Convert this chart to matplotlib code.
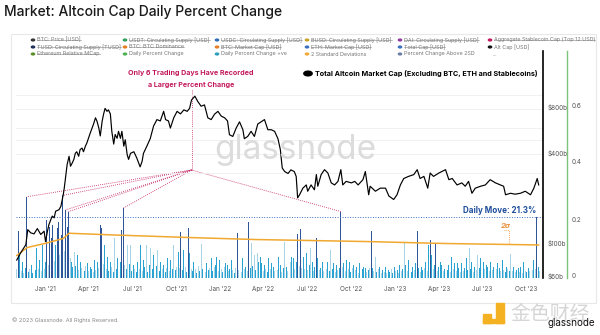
import matplotlib
matplotlib.use('Agg')
import matplotlib.pyplot as plt
import matplotlib.transforms as mtrans
from matplotlib.patches import Rectangle, Circle
from matplotlib.lines import Line2D
import numpy as np
import pandas as pd

# ---------------- data ----------------
title = "Market: Altcoin Cap Daily Percent Change"

# absolute daily percent change, one value every 3 days from bar_start
bar_start = '2020-11-03'
bar_step_days = 3
pct_change = [
    3.2, 16.5, 8.0, 2.5, 5.7, 1.8, 3.6, 28.5, 2.2, 3.1, 4.6, 1.9, 5.7, 2.7, 10.4, 3.3, 6.3, 2.4, 11.6, 3.0,
    5.7, 20.4, 4.4, 18.0, 13.9, 18.6, 6.1, 11.6, 17.4, 19.5, 8.2, 15.0, 29.0, 9.5, 23.9, 18.0, 23.3, 7.0, 5.7, 3.8,
    9.2, 4.1, 8.1, 2.9, 5.7, 3.5, 7.5, 2.6, 4.2, 5.1, 2.3, 4.0, 3.1, 2.0, 6.3, 2.8, 5.7, 3.4, 18.6, 17.4,
    4.8, 11.6, 3.0, 7.5, 2.5, 5.7, 3.9, 2.1, 13.9, 3.2, 6.9, 2.7, 5.7, 16.8, 24.5, 4.4, 3.0, 11.6, 4.8, 11.6,
    2.4, 4.6, 3.3, 2.0, 5.7, 3.1, 11.6, 2.6, 6.3, 3.7, 11.6, 2.2, 4.5, 10.4, 3.0, 8.1, 2.8, 4.2, 9.8, 2.5,
    5.7, 3.3, 4.6, 2.0, 3.6, 6.9, 2.4, 6.3, 3.1, 11.6, 2.7, 4.0, 9.2, 3.5, 16.2, 2.9, 9.8, 3.8, 2.2, 17.4,
    8.7, 3.0, 2.4, 5.7, 3.3, 1.9, 4.1, 2.6, 11.8, 3.2, 4.6, 2.0, 5.1, 2.8, 3.5, 6.9, 2.3, 3.7, 4.6, 7.5,
    2.5, 6.3, 3.0, 2.1, 3.9, 5.1, 4.6, 2.4, 3.3, 6.3, 2.7, 1.8, 3.6, 15.7, 2.9, 5.7, 2.2, 6.9, 3.1, 4.0,
    2.6, 19.8, 3.4, 12.2, 4.3, 8.1, 2.7, 8.7, 5.7, 7.5, 5.1, 2.4, 4.6, 3.0, 2.1, 6.9, 3.3, 5.1, 4.0, 2.5,
    5.7, 2.9, 7.5, 4.6, 2.2, 3.4, 12.5, 4.0, 2.6, 8.7, 5.7, 7.5, 6.9, 3.1, 5.7, 15.4, 4.2, 17.1, 3.6, 7.5,
    3.0, 8.7, 2.8, 4.4, 10.4, 5.7, 2.5, 3.7, 13.9, 6.9, 2.9, 3.4, 5.7, 2.3, 4.6, 3.1, 5.7, 2.6, 9.8, 3.3,
    5.1, 2.0, 4.6, 2.8, 3.5, 23.3, 3.9, 5.1, 2.4, 6.3, 3.0, 5.7, 2.2, 3.4, 4.6, 2.7, 4.0, 1.9, 5.1, 2.5,
    3.2, 4.0, 3.4, 2.1, 2.8, 3.6, 16.5, 3.4, 2.6, 7.5, 2.2, 3.0, 4.0, 1.8, 2.8, 2.2, 4.0, 1.6, 2.8, 2.0,
    3.1, 1.7, 4.0, 2.3, 2.8, 1.9, 4.6, 2.5, 3.3, 12.2, 4.6, 2.4, 6.3, 3.0, 2.1, 4.0, 2.7, 5.1, 16.6, 3.4,
    2.2, 4.0, 2.9, 3.6, 5.7, 2.5, 11.6, 13.3, 8.1, 3.2, 4.4, 12.2, 2.6, 4.0, 5.7, 4.6, 2.3, 3.0, 7.8, 2.7,
    4.6, 2.0, 7.5, 3.1, 5.1, 2.4, 5.1, 3.4, 2.2, 5.1, 2.6, 3.4, 6.9, 2.8, 10.6, 3.3, 5.7, 2.1, 4.0, 2.9,
    8.1, 3.5, 6.9, 2.4, 5.7, 3.0, 4.6, 4.0, 2.3, 5.7, 2.7, 4.0, 1.9, 3.2, 5.1, 3.4, 2.5, 6.3, 2.8, 2.0,
    4.0, 3.1, 2.4, 8.5, 2.6, 4.0, 2.1, 2.9, 3.4, 2.2, 4.0, 1.8, 5.7, 2.6, 2.0, 3.4, 2.3, 4.0, 2.7, 6.3,
    3.0, 21.3, 4.0, 2.5,
]
# slots that were down days (drawn pale)
down_idx = [0, 3, 5, 9, 12, 15, 17, 19, 22, 26, 30, 33, 37, 40, 43, 45, 48, 50, 53, 55, 57, 60, 62, 66,
            68, 71, 75, 77, 79, 82, 85, 87, 90, 93, 96, 98, 101, 104, 106, 109, 111, 113, 117, 121, 124,
            126, 128, 131, 134, 137, 140, 142, 144, 147, 150, 152, 154, 156, 158, 160, 163, 165, 167, 171,
            173, 176, 179, 181, 184, 186, 188, 190, 193, 196, 198, 200, 202, 204, 206, 210, 213, 215, 218,
            221, 223, 226, 228, 230, 233, 235, 237, 239, 243, 245, 248, 249, 251, 253, 255, 257, 260, 263,
            265, 267, 269, 271, 273, 276, 280, 283, 285, 289, 291, 292, 296, 298, 301, 303, 305, 308, 310,
            314, 317, 319, 320, 323, 325, 328, 330, 333, 336, 338, 341, 343, 344, 346, 349, 351, 353, 356,
            358, 360, 363]

price_dates = [
    '2020-11-03', '2020-11-11', '2020-11-22', '2020-11-26', '2020-12-02', '2020-12-09', '2020-12-16',
    '2020-12-23', '2020-12-30', '2021-01-02', '2021-01-06', '2021-01-09', '2021-01-13', '2021-01-16',
    '2021-01-20', '2021-01-23', '2021-01-30', '2021-02-03', '2021-02-08', '2021-02-10', '2021-02-13',
    '2021-02-16', '2021-02-20', '2021-02-23', '2021-02-27', '2021-03-02', '2021-03-05', '2021-03-08',
    '2021-03-12', '2021-03-15', '2021-03-19', '2021-03-22', '2021-03-26', '2021-03-29', '2021-04-05',
    '2021-04-12', '2021-04-16', '2021-04-19', '2021-04-23', '2021-04-26', '2021-04-30', '2021-05-03',
    '2021-05-06', '2021-05-10', '2021-05-13', '2021-05-17', '2021-05-20', '2021-05-24', '2021-05-27',
    '2021-05-31', '2021-06-03', '2021-06-07', '2021-06-10', '2021-06-14', '2021-06-17', '2021-06-21',
    '2021-06-24', '2021-06-28', '2021-07-05', '2021-07-11', '2021-07-18', '2021-07-22', '2021-07-25',
    '2021-08-01', '2021-08-08', '2021-08-15', '2021-08-22', '2021-08-29', '2021-09-05', '2021-09-09',
    '2021-09-15', '2021-09-19', '2021-09-26', '2021-10-03', '2021-10-10', '2021-10-17', '2021-10-24',
    '2021-10-29', '2021-11-02', '2021-11-09', '2021-11-15', '2021-11-22', '2021-11-29', '2021-12-06',
    '2021-12-13', '2021-12-20', '2021-12-27', '2022-01-03', '2022-01-10', '2022-01-16', '2022-01-20',
    '2022-01-27', '2022-02-03', '2022-02-10', '2022-02-17', '2022-02-20', '2022-02-27', '2022-03-06',
    '2022-03-13', '2022-03-20', '2022-03-27', '2022-04-03', '2022-04-10', '2022-04-17', '2022-04-24',
    '2022-05-01', '2022-05-06', '2022-05-10', '2022-05-15', '2022-05-22', '2022-05-28', '2022-06-04',
    '2022-06-08', '2022-06-11', '2022-06-15', '2022-06-22', '2022-06-29', '2022-07-02', '2022-07-09',
    '2022-07-16', '2022-07-20', '2022-07-23', '2022-07-30', '2022-08-06', '2022-08-13', '2022-08-20',
    '2022-08-27', '2022-09-03', '2022-09-09', '2022-09-13', '2022-09-20', '2022-10-01', '2022-10-08',
    '2022-10-15', '2022-10-25', '2022-10-30', '2022-11-06', '2022-11-09', '2022-11-20', '2022-11-30',
    '2022-12-11', '2022-12-18', '2022-12-28', '2023-01-04', '2023-01-11', '2023-01-18', '2023-01-28',
    '2023-02-08', '2023-02-15', '2023-02-21', '2023-03-01', '2023-03-09', '2023-03-14', '2023-03-21',
    '2023-04-01', '2023-04-15', '2023-04-22', '2023-04-29', '2023-05-09', '2023-05-19', '2023-05-26',
    '2023-06-02', '2023-06-09', '2023-06-16', '2023-06-27', '2023-07-07', '2023-07-17', '2023-07-28',
    '2023-08-07', '2023-08-14', '2023-08-18', '2023-08-28', '2023-09-07', '2023-09-18', '2023-09-28',
    '2023-10-09', '2023-10-16', '2023-10-23', '2023-10-26',
]
price_vals = [
    79, 88, 100, 126, 120, 118, 128, 117, 123, 105, 123, 136, 147, 155, 151, 167, 171, 180, 216, 238,
    285, 342, 388, 333, 352, 370, 406, 416, 388, 430, 440, 416, 453, 475, 553, 636, 700, 667, 598, 530,
    667, 743, 809, 773, 790, 743, 569, 468, 542, 511, 569, 511, 569, 453, 500, 398, 370, 406, 416, 378,
    330, 358, 406, 453, 508, 617, 681, 667, 773, 681, 667, 598, 700, 773, 743, 790, 773, 809, 920, 975,
    900, 836, 853, 700, 681, 740, 773, 718, 700, 667, 540, 526, 598, 658, 583, 508, 526, 569, 526, 636,
    658, 681, 583, 583, 569, 508, 430, 324, 307, 298, 315, 307, 285, 205, 215, 238, 250, 227, 250, 232,
    293, 245, 293, 316, 300, 258, 250, 264, 316, 250, 264, 258, 264, 250, 271, 307, 215, 245, 227, 238,
    238, 211, 200, 215, 250, 276, 285, 293, 316, 276, 285, 238, 300, 285, 300, 316, 271, 276, 250, 258,
    245, 264, 220, 238, 245, 250, 271, 258, 250, 245, 215, 220, 217, 220, 227, 215, 238, 276, 250,
]

sigma_dates = ['2020-11-03', '2020-11-25', '2021-01-05', '2021-02-08', '2021-02-20', '2021-05-24',
               '2021-10-29', '2022-03-15', '2022-10-30', '2023-04-15', '2023-10-26']
sigma_vals = [7.9, 10.7, 12.3, 13.9, 15.7, 15.1, 14.2, 13.5, 12.8, 12.1, 11.6]   # percent

latest_move = 21.3
larger_idx = [7, 32, 34, 36, 74, 225]     # the 6 days with a larger move

x_tick_dates = ['2021-01-01', '2021-04-01', '2021-07-01', '2021-10-01', '2022-01-01', '2022-04-01',
                '2022-07-01', '2022-10-01', '2023-01-01', '2023-04-01', '2023-07-01', '2023-10-01']
x_tick_labels = ["Jan '21", "Apr '21", "Jul '21", "Oct '21", "Jan '22", "Apr '22",
                 "Jul '22", "Oct '22", "Jan '23", "Apr '23", "Jul '23", "Oct '23"]
price_ticks = [60, 100, 400, 800]
price_tick_labels = ['$60b', '$100b', '$400b', '$800b']
price_grid = [300, 400, 500, 600, 800, 1000]
pct_ticks = [0, 0.2, 0.4, 0.6]
pct_tick_labels = ['0', '0.2', '0.4', '0.6']

legend_rows = [
    [('BTC: Price [USD]', '#333333', True), ('USDT: Circulating Supply [USD]', '#2e9d5b', True),
     ('USDC: Circulating Supply [USD]', '#2f6db5', True), ('BUSD: Circulating Supply [USD]', '#c9a227', True),
     ('DAI: Circulating Supply [USD]', '#8e3a9d', True), ('Aggregate Stablecoin Cap (Top 12 USD)', '#c2185b', True)],
    [('TUSD: Circulating Supply [TUSD]', '#1f2f5a', True), ('BTC: BTC Dominance', '#e67e22', True),
     ('BTC: Market Cap [USD]', '#e67e22', True), ('ETH: Market Cap [USD]', '#3b6fc0', True),
     ('Total Cap [USD]', '#3b6fc0', True), ('Alt Cap [USD]', '#111111', False)],
    [('Ethereum Relative MCap', '#5a8f29', True), ('Daily Percent Change', '#4caf50', False),
     ('Daily Percent Change +ve', '#2a9dbf', False), ('2 Standard Deviations', '#f0a830', False),
     ('Percent Change Above 2SD', '#6b7fa0', False), ('...', None, False)],
]

# ---------------- figure ----------------
plt.rcParams['font.family'] = ['Inter', 'DejaVu Sans']
W, H = 600, 335
fig = plt.figure(figsize=(W / 100, H / 100), dpi=100)
fig.patch.set_facecolor('white')


def fx(px):
    return px / W


def fy(py):
    return 1 - py / H


renderer = fig.canvas.get_renderer()


def fit(t, width_px):
    bb = t.get_window_extent(renderer)
    if bb.width > 0:
        t.set_fontsize(t.get_fontsize() * width_px / bb.width)
    return t


# panel border
fig.add_artist(Rectangle((fx(11), fy(303)), fx(596) - fx(11), fy(34) - fy(303),
                         transform=fig.transFigure, fill=False, edgecolor='#e8e8e8', lw=0.8))

ax = fig.add_axes([fx(16), fy(278), fx(543) - fx(16), fy(51) - fy(278)])
axp = ax.twinx()

bar_dates = pd.date_range(bar_start, periods=len(pct_change), freq=f'{bar_step_days}D')
pct = np.array(pct_change) / 100.0
sig_d = pd.to_datetime(sigma_dates)
sig_v = np.array(sigma_vals) / 100.0
sig_at_bar = np.interp(bar_dates.asi8, sig_d.asi8, sig_v)

colors = []
for i, v in enumerate(pct):
    if v > sig_at_bar[i]:
        colors.append('#2e5597')
    elif i in down_idx:
        colors.append('#a9d4e6')
    else:
        colors.append('#2aa3d3')

ax.bar(bar_dates, pct, width=2.0, color=colors, linewidth=0, zorder=2)
ax.plot(sig_d, sig_v, color='#f0a830', lw=1.1, zorder=3)
ax.axhline(latest_move / 100, color='#3e6fbf', lw=0.7, ls=(0, (1, 1.6)), zorder=3)

xmin = pd.Timestamp('2020-11-01 12:00')
xmax = pd.Timestamp('2023-11-04')
ax.set_xlim(xmin, xmax)
ax.set_ylim(0, 227 / 285)

# right green axis (percent)
ax.yaxis.tick_right()
for s in ['left', 'top', 'bottom']:
    ax.spines[s].set_visible(False)
ax.spines['right'].set_position(('outward', 24 * 0.72))
ax.spines['right'].set_color('#7cc47a')
ax.spines['right'].set_linewidth(1.0)
ax.set_yticks(pct_ticks)
ax.set_yticklabels(pct_tick_labels)
ax.tick_params(axis='y', length=0, pad=3, labelsize=4.6, labelcolor='#555555')
ax.set_xticks(pd.to_datetime(x_tick_dates))
ax.set_xticklabels(x_tick_labels)
ax.tick_params(axis='x', length=0, pad=6, labelsize=4.6, labelcolor='#555555')

# price axis (log)
axp.set_yscale('log')
axp.set_ylim(60, 60 * 2 ** (227 / 45.2))
axp.plot(pd.to_datetime(price_dates), price_vals, color='black', lw=0.85, zorder=5)
axp.yaxis.set_major_locator(plt.FixedLocator(price_ticks))
axp.yaxis.set_minor_locator(plt.NullLocator())
axp.set_yticklabels(price_tick_labels)
axp.tick_params(axis='y', length=0, pad=3, labelsize=4.6, labelcolor='#555555')
for s in ['left', 'top', 'bottom']:
    axp.spines[s].set_visible(False)
axp.spines['right'].set_color('black')
axp.spines['right'].set_linewidth(1.2)
for g in price_grid:
    axp.axhline(g, color='#efefef', lw=0.6, zorder=0)

off = mtrans.ScaledTranslation(0, 2 / 100, fig.dpi_scale_trans)
for lab in ax.get_yticklabels() + axp.get_yticklabels():
    lab.set_transform(lab.get_transform() + off)

# annotation lines to the 6 larger days
hub_d = pd.Timestamp('2021-11-02')
hub_y = (278 - 170) / 285
for i in larger_idx:
    ax.plot([hub_d, bar_dates[i]], [hub_y, pct[i]], color='#c2185b', lw=0.6,
            ls=(0, (1, 1.5)), zorder=4)
ax.plot([hub_d, hub_d], [hub_y, (278 - 90) / 285], color='#c2185b', lw=0.6, ls=(0, (1, 1.5)), zorder=4)

# 2 sigma marker
sd = pd.Timestamp('2023-08-25')
ax.plot([pd.Timestamp('2023-08-14'), sd, sd], [(278 - 230) / 285, (278 - 230) / 285, np.interp(sd.value, sig_d.asi8, sig_v)],
        color='#e8913a', lw=0.6, ls=(0, (1, 1.3)), zorder=4)

# ---------------- texts ----------------
t = fig.text(fx(4), fy(12), title, fontsize=12, color='#1a1a1a', va='center', ha='left', fontweight='medium')
fit(t, 279)

t = fig.text(fx(190.5), fy(73.5), 'Only 6 Trading Days Have Recorded', fontsize=6, color='#c2185b',
             fontweight='bold', ha='center', va='center')
fit(t, 125)
t2 = fig.text(fx(191.5), fy(84.5), 'a Larger Percent Change', fontsize=t.get_fontsize(), color='#c2185b',
              fontweight='bold', ha='center', va='center')

fig.add_artist(Circle((fx(308), fy(73.5)), 4.2 / W, transform=fig.transFigure, color='black'))
t = fig.text(fx(315), fy(73.5), 'Total Altcoin Market Cap (Excluding BTC, ETH and Stablecoins)', fontsize=6,
             color='black', fontweight='bold', ha='left', va='center')
fit(t, 223)

t = fig.text(fx(536), fy(210.7), f'Daily Move: {latest_move}%', fontsize=6, color='#1f4e9c',
             fontweight='bold', ha='right', va='center')
fit(t, 73)

t = fig.text(fx(505.5), fy(226), '2σ', fontsize=6, color='#e8913a', fontweight='bold', style='italic',
             ha='center', va='center')
fit(t, 10)

# watermark
t = fig.text(fx(295), fy(150), 'glassnode', fontsize=30, color='#dcdcdc', ha='center', va='center', zorder=0)
fit(t, 162)

t = fig.text(fx(11.5), fy(320), '© 2023 Glassnode. All Rights Reserved.', fontsize=4.5, color='#8a8a8a',
             ha='left', va='center')
fit(t, 107)

# bottom right logos
yel = '#f4b223'
fig.add_artist(Rectangle((fx(483), fy(323)), 8 / W, 9 / H, transform=fig.transFigure, color=yel))
fig.add_artist(Rectangle((fx(496), fy(323)), 8 / W, 20 / H, transform=fig.transFigure, color=yel))
fig.add_artist(Rectangle((fx(483), fy(323)), 21 / W, 4 / H, transform=fig.transFigure, color=yel))
t = fig.text(fx(550), fy(314), '金色财经', fontsize=14, color='#d6d6d6', ha='center', va='center',
             family=['Noto Sans CJK SC', 'DejaVu Sans'])
fit(t, 80)
t = fig.text(fx(571), fy(323), 'glassnode', fontsize=7, color='#111111', ha='center', va='center')
fit(t, 48)

# legend
col_x = [33, 125, 217, 307, 400, 490]
row_y = [40, 47, 54]
leg_texts = []
for r, row in enumerate(legend_rows):
    for c, (lab, colr, struck) in enumerate(row):
        x0, y0 = col_x[c], row_y[r]
        if colr is not None:
            fig.add_artist(Circle((fx(x0), fy(y0)), 1.6 / W, transform=fig.transFigure, color=colr))
            tx = fig.text(fx(x0 + 4), fy(y0), lab, fontsize=3.9, color='#777777', ha='left', va='center')
        else:
            tx = fig.text(fx(x0 + 3), fy(y0), lab, fontsize=3.9, color='#777777', ha='left', va='center')
        leg_texts.append((tx, struck))

for tx, struck in leg_texts:
    if struck:
        bb = tx.get_window_extent(renderer)
        ym = (bb.y0 + bb.y1) / 2
        fig.add_artist(Line2D([bb.x0 / W, bb.x1 / W], [ym / H, ym / H], transform=fig.transFigure,
                              color='#888888', lw=0.4))

fig.savefig('out.png', dpi=100, facecolor='white')
